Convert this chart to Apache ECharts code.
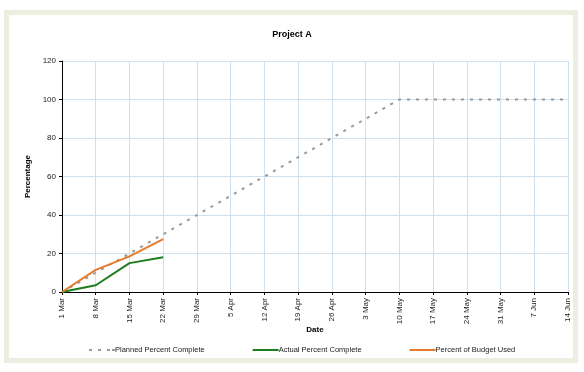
<!DOCTYPE html>
<html><head><meta charset="utf-8">
<script src="https://cdn.jsdelivr.net/npm/echarts@6/dist/echarts.min.js"></script>
<style>html,body{margin:0;padding:0;background:#fff}#c{width:584px;height:372px}</style>
</head><body><div id="c"></div>
<script>
// Day offsets from 1 Mar and their tick labels
const tickLabels = ['1 Mar','8 Mar','15 Mar','22 Mar','29 Mar','5 Apr','12 Apr','19 Apr','26 Apr','3 May','10 May','17 May','24 May','31 May','7 Jun','14 Jun'];
const plannedDays = [0,7,14,21,28,35,42,49,56,63,70,77,84,91,98,105];
const plannedValues = [0,10,20,30,40,50,60,70,80,90,100,100,100,100,100,100];
const actualDays = [0,7,14,21];
const actualValues = [0,3.5,15,18];
const budgetDays = [0,7,14,21];
const budgetValues = [0,11.5,18.5,27.5];

const chart = echarts.init(document.getElementById('c'), null, {renderer:'canvas'});
const pair = (d, v) => d.map((x, i) => [x, v[i]]);
const font = 'Arial, "Liberation Sans", sans-serif';
chart.setOption({
  animation: false,
  backgroundColor: '#fff',
  graphic: [
    {type:'rect', z:-10, shape:{x:4,y:10,width:574,height:353}, style:{fill:'#eceee0'}},
    {type:'rect', z:-9, shape:{x:9,y:15,width:564,height:343}, style:{fill:'#fff'}}
  ],
  title: {text:'Project A', left:'center', top:25,
    textStyle:{fontSize:9, fontWeight:'bold', color:'#000', fontFamily:font}},
  grid: {left:62, right:16, top:61, bottom:80},
  xAxis: {
    type:'value', min:0, max:105, interval:7,
    name:'Date', nameLocation:'middle', nameGap:34, nameMoveOverlap:false,
    nameTextStyle:{fontSize:8, fontWeight:'bold', color:'#000', fontFamily:font},
    axisLine:{lineStyle:{color:'#000', width:1}},
    axisTick:{show:true, length:3, lineStyle:{color:'#000'}},
    axisLabel:{rotate:90, fontSize:8, color:'#222', fontFamily:font, margin:6,
      formatter: v => tickLabels[Math.round(v/7)]},
    splitLine:{show:true, lineStyle:{color:'#cfe1ee', width:1}}
  },
  yAxis: {
    type:'value', min:0, max:120, interval:20,
    name:'Percentage', nameLocation:'middle', nameGap:26, nameRotate:90,
    nameTextStyle:{fontSize:8, fontWeight:'bold', color:'#000', fontFamily:font},
    axisLine:{show:true, lineStyle:{color:'#000', width:1}},
    axisTick:{show:true, length:3, lineStyle:{color:'#000'}},
    axisLabel:{fontSize:8, color:'#222', fontFamily:font, margin:6},
    splitLine:{show:true, lineStyle:{color:'#cfe1ee', width:1}}
  },
  legend: {
    bottom:13, left:84, itemGap:48, itemWidth:26, itemHeight:2,
    textStyle:{fontSize:7.5, color:'#222', fontFamily:font, padding:[0,0,0,-5]},
    data:[
      {name:'Planned Percent Complete', icon:'path://M0,0h3v2h-3zM9,0h3v2h-3zM18,0h3v2h-3zM23,0h3v2h-3z', itemStyle:{color:'#999'}},
      {name:'Actual Percent Complete', icon:'rect'},
      {name:'Percent of Budget Used', icon:'rect'}
    ]
  },
  series: [
    {name:'Planned Percent Complete', type:'line', data:pair(plannedDays, plannedValues),
      showSymbol:false, symbol:'none', color:'#999',
      lineStyle:{color:'#9a9a9a', width:2, type:[3,6]}},
    {name:'Actual Percent Complete', type:'line', data:pair(actualDays, actualValues),
      showSymbol:false, symbol:'none', color:'#1e7d1e',
      lineStyle:{color:'#1e7d1e', width:2}},
    {name:'Percent of Budget Used', type:'line', data:pair(budgetDays, budgetValues),
      showSymbol:false, symbol:'none', color:'#e57b2c',
      lineStyle:{color:'#e57b2c', width:2}}
  ]
});
</script></body></html>
